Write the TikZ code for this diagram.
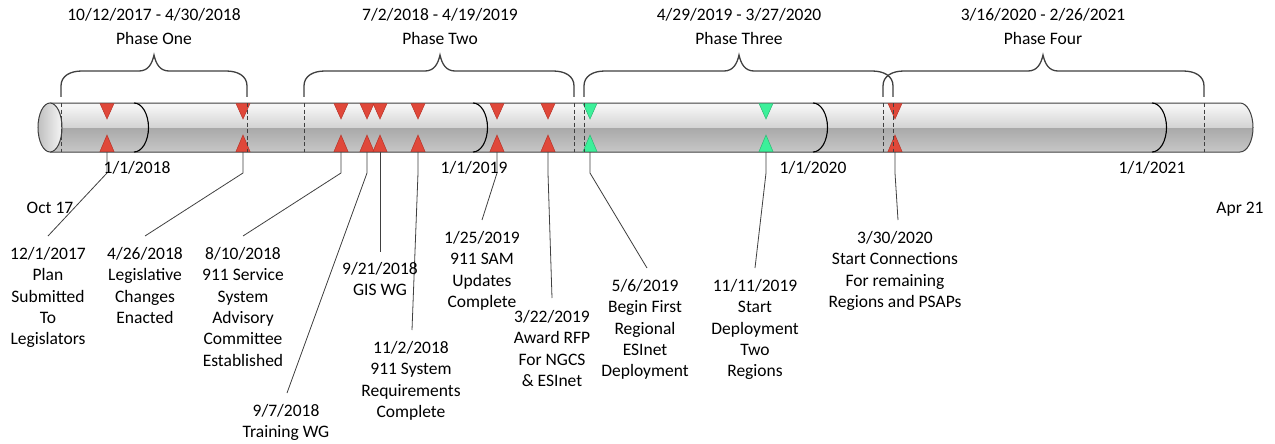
\documentclass[tikz,border=0pt]{standalone}
\usepackage{fontspec}
\setmainfont{Carlito}
\definecolor{edge}{HTML}{404040}
\definecolor{redfill}{HTML}{E0483A}
\definecolor{reddraw}{HTML}{B83227}
\definecolor{grnfill}{HTML}{3CF09A}
\definecolor{grndraw}{HTML}{2BB873}
\definecolor{cA}{HTML}{D6D6D6}
\definecolor{cB}{HTML}{C4C4C4}
\definecolor{cC}{HTML}{A9A9A9}
\definecolor{cD}{HTML}{D4D4D4}
\definecolor{cE}{HTML}{F5F5F5}
\pgfdeclareverticalshading{cylshade}{100bp}{color(0bp)=(cA); color(25bp)=(cA); color(27.5bp)=(cB); color(49.6bp)=(cC); color(50.4bp)=(cD); color(72bp)=(cE); color(100bp)=(cE)}
\newcommand{\phbrace}[3]{%
  \draw[bracestyle] (#1,97) -- (#1,86) .. controls (#1,76) and (#1+9,71) .. (#1+21,71)
    -- (#2-15,71) .. controls (#2-6,71) and (#2-2,64) .. (#2,55)
    .. controls (#2+2,64) and (#2+6,71) .. (#2+15,71)
    -- (#3-21,71) .. controls (#3-9,71) and (#3,76) .. (#3,86) -- (#3,97);}
\newcommand{\yeararc}[1]{%
  \draw[yearline] (#1,103) .. controls (#1+8,103) and (#1+14.5,114) .. (#1+14.5,127.5)
    .. controls (#1+14.5,141) and (#1+8,152) .. (#1,152);}
\newcommand{\mkred}[2]{%
  \filldraw[redmark] (#2-7,103.5) -- (#2+7,103.5) -- (#2,119) -- cycle;
  \filldraw[redmark] (#2-7,151.5) -- (#2+7,151.5) -- (#2,135) -- cycle;
  \coordinate (#1) at (#2,152);}
\newcommand{\mkgrn}[2]{%
  \filldraw[grnmark] (#2-7,103.5) -- (#2+7,103.5) -- (#2,119) -- cycle;
  \filldraw[grnmark] (#2-7,151.5) -- (#2+7,151.5) -- (#2,135) -- cycle;
  \coordinate (#1) at (#2,152);}
\begin{document}
\begin{tikzpicture}[x=1pt,y=-1pt,
  txt/.style={font=\fontsize{17.5}{21.4}\selectfont, inner sep=0pt, text=black},
  lbl/.style={txt, align=center, anchor=north},
  bracestyle/.style={draw=edge, line width=1.3pt},
  yearline/.style={draw=black, line width=1.1pt},
  conn/.style={draw=edge, line width=0.8pt},
  dashline/.style={draw=edge, line width=0.8pt, dash pattern=on 4pt off 2.5pt},
  redmark/.style={fill=redfill, draw=reddraw, line width=0.5pt},
  grnmark/.style={fill=grnfill, draw=grndraw, line width=0.5pt}]
\useasboundingbox (0,0) rectangle (1275,444);
\fill[white] (0,0) rectangle (1275,444);
% cylinder body
\shade[shading=cylshade] (50,103) -- (1240,103) .. controls (1247.2,103) and (1253,114) .. (1253,127.5)
  .. controls (1253,141) and (1247.2,152) .. (1240,152) -- (50,152) -- cycle;
\draw[draw=edge, line width=1pt] (50,103) -- (1240,103) .. controls (1247.2,103) and (1253,114) .. (1253,127.5)
  .. controls (1253,141) and (1247.2,152) .. (1240,152) -- (50,152);
\shade[left color=black!25, right color=black!4, draw=edge, line width=1pt] (50,127.5) ellipse [x radius=12, y radius=24.5];
% year arcs
\yeararc{134}\yeararc{473}\yeararc{813}\yeararc{1152}
% markers
\mkred{m1}{107}\mkred{m2}{243}\mkred{m3}{341}\mkred{m4}{367}\mkred{m5}{380}\mkred{m6}{418}
\mkred{m7}{497}\mkred{m8}{548}\mkgrn{m9}{590}\mkgrn{m10}{766}\mkred{m11}{895}
% phase dashed lines
\foreach \xx in {61,247,304,574,584,883,893,1204} {\draw[dashline] (\xx,103) -- (\xx,152);}
% braces
\phbrace{61}{154}{247}
\phbrace{304}{440}{574}
\phbrace{584}{739}{893}
\phbrace{883}{1043}{1204}
% phase labels
\node[txt, anchor=base] (p1d) at (154,20.5) {10/12/2017 - 4/30/2018};
\node[txt, anchor=base] (p1n) at (154,44.5) {Phase One};
\node[txt, anchor=base] (p2d) at (440,20.5) {7/2/2018 - 4/19/2019};
\node[txt, anchor=base] (p2n) at (440,44.5) {Phase Two};
\node[txt, anchor=base] (p3d) at (739,20.5) {4/29/2019 - 3/27/2020};
\node[txt, anchor=base] (p3n) at (739,44.5) {Phase Three};
\node[txt, anchor=base] (p4d) at (1043,20.5) {3/16/2020 - 2/26/2021};
\node[txt, anchor=base] (p4n) at (1043,44.5) {Phase Four};
% connectors
\coordinate (k1) at (107,173); \coordinate (e1) at (48,236);
\coordinate (k2) at (243,173); \coordinate (e2) at (145,236);
\coordinate (k3) at (341,173); \coordinate (e3) at (243,236);
\coordinate (k4) at (367,173); \coordinate (e4) at (287,393);
\coordinate (e5) at (380,252);
\coordinate (k6) at (418,173); \coordinate (e6) at (412,330);
\coordinate (k7) at (497,173); \coordinate (e7) at (482,220);
\coordinate (k8) at (548,173); \coordinate (e8) at (552,298);
\coordinate (k9) at (590,173); \coordinate (e9) at (647,268);
\coordinate (k10) at (766,173); \coordinate (e10) at (755,268);
\coordinate (k11) at (895,173); \coordinate (e11) at (898,220);
\draw[conn] (m1) -- (k1) -- (e1);
\draw[conn] (m2) -- (k2) -- (e2);
\draw[conn] (m3) -- (k3) -- (e3);
\draw[conn] (m4) -- (k4) -- (e4);
\draw[conn] (m5) -- (e5);
\draw[conn] (m6) -- (k6) -- (e6);
\draw[conn] (m7) -- (k7) -- (e7);
\draw[conn] (m8) -- (k8) -- (e8);
\draw[conn] (m9) -- (k9) -- (e9);
\draw[conn] (m10) -- (k10) -- (e10);
\draw[conn] (m11) -- (k11) -- (e11);
% axis labels
\node[txt, anchor=base] (y18) at (137,173.5) {1/1/2018};
\node[txt, anchor=base] (y19) at (474,173.5) {1/1/2019};
\node[txt, anchor=base] (y20) at (813,173.5) {1/1/2020};
\node[txt, anchor=base] (y21) at (1152,173.5) {1/1/2021};
\node[txt, anchor=base] (oct) at (50,213.5) {Oct 17};
\node[txt, anchor=base] (apr) at (1240,213.5) {Apr 21};
% event labels
\node[lbl] (t1) at (48,247) {12/1/2017\\Plan\\Submitted\\To\\Legislators};
\node[lbl] (t2) at (145,247) {4/26/2018\\Legislative\\Changes\\Enacted};
\node[lbl] (t3) at (243,247) {8/10/2018\\911 Service\\System\\Advisory\\Committee\\Established};
\node[lbl] (t4) at (286,404) {9/7/2018\\Training WG};
\node[lbl] (t5) at (380,262) {9/21/2018\\GIS WG};
\node[lbl] (t6) at (411,341) {11/2/2018\\911 System\\Requirements\\Complete};
\node[lbl] (t7) at (482,231) {1/25/2019\\911 SAM\\Updates\\Complete};
\node[lbl] (t8) at (552,310) {3/22/2019\\Award RFP\\For NGCS\\\& ESInet};
\node[lbl] (t9) at (645,279) {5/6/2019\\Begin First\\Regional\\ESInet\\Deployment};
\node[lbl] (t10) at (755,279) {11/11/2019\\Start\\Deployment\\Two\\Regions};
\node[lbl] (t11) at (895,231) {3/30/2020\\Start Connections\\For remaining\\Regions and PSAPs};
\end{tikzpicture}
\end{document}
